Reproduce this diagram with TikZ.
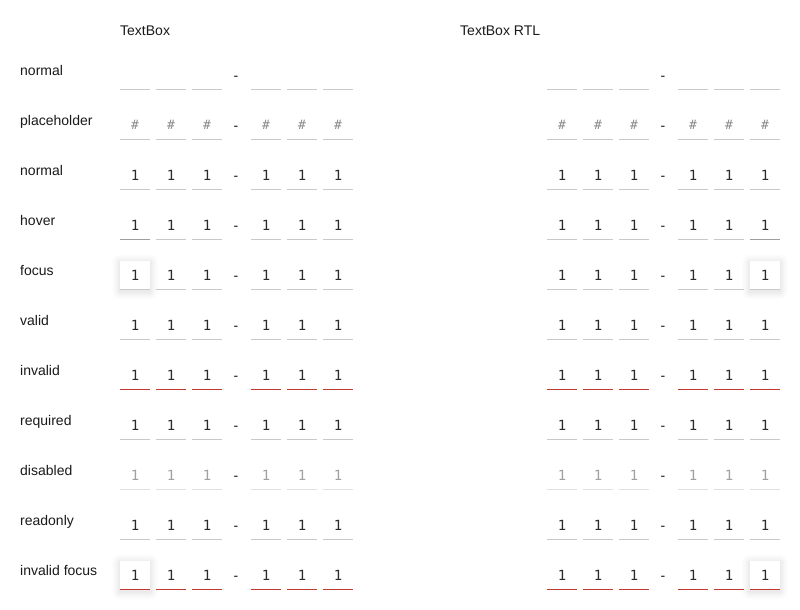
\documentclass[tikz,border=0pt]{standalone}
\usepackage{fontspec}
\setmainfont{Liberation Sans}
\newfontfamily\digitfont{DejaVu Sans Mono}
\definecolor{txt}{HTML}{2B2B2B}
\definecolor{lbl}{HTML}{1A1A1A}
\definecolor{uline}{HTML}{C9C9C9}
\definecolor{uhover}{HTML}{9E9E9E}
\definecolor{udis}{HTML}{E0E0E0}
\definecolor{tdis}{HTML}{A0A0A0}
\definecolor{tph}{HTML}{8A8A8A}
\definecolor{uerr}{HTML}{C23934}
\tikzset{
  x=1pt, y=-1pt,
  lab/.style={anchor=base west, inner sep=0, text=lbl, font=\fontsize{14}{16}\selectfont},
  dashsym/.style={anchor=base, inner sep=0, text=lbl, font=\fontsize{14}{16}\selectfont},
  cell/.style={minimum width=30pt, minimum height=29pt, inner sep=0, font=\digitfont\fontsize{14}{16}\selectfont, text=txt},
  k-empty/.style={}, k-ph/.style={text=tph, font=\digitfont\fontsize{13}{16}\selectfont},
  k-normal/.style={}, k-dis/.style={text=tdis},
  u-normal/.style={draw=uline, line width=1pt},
  u-hover/.style={draw=uhover, line width=1pt},
  u-err/.style={draw=uerr, line width=1pt},
  u-dis/.style={draw=udis, line width=1pt},
}
\newcommand\shadowbox[2]{% center x, center y
  \foreach \s/\o in {8/0.006,7/0.007,6/0.008,5/0.009,4/0.01,3/0.011,2/0.012,1/0.013}{
    \fill[black, opacity=\o, rounded corners=\s pt] (#1-15-\s, #2-14.5-\s+2) rectangle (#1+15+\s, #2+14.5+\s+2);
  }
  \fill[white] (#1-15,#2-14.5) rectangle (#1+15,#2+14.5);
}
\begin{document}
\begin{tikzpicture}
\useasboundingbox[fill=white] (0,0) rectangle (800,610);
\node[lab] (hL) at (120,35.5) {TextBox};
\node[lab] (hR) at (460,35.5) {TextBox RTL};
% focus shadows
\shadowbox{135}{275}
\shadowbox{765}{275}
\shadowbox{135}{575}
\shadowbox{765}{575}
\foreach \r/\lab/\cont/\k/\ul/\us in {
  0/normal/{}/k-empty/u-normal/u-normal,
  1/placeholder/\#/k-ph/u-normal/u-normal,
  2/normal/1/k-normal/u-normal/u-normal,
  3/hover/1/k-normal/u-normal/u-hover,
  4/focus/1/k-normal/u-normal/u-normal,
  5/valid/1/k-normal/u-normal/u-normal,
  6/invalid/1/k-normal/u-err/u-err,
  7/required/1/k-normal/u-normal/u-normal,
  8/disabled/1/k-dis/u-dis/u-dis,
  9/readonly/1/k-normal/u-normal/u-normal,
  10/invalid focus/1/k-normal/u-err/u-err}{
  \pgfmathsetmacro\yc{75+50*\r}
  \pgfmathsetmacro\yb{75+50*\r}
  \pgfmathsetmacro\yd{80+50*\r}
  \node[lab] (lab\r) at (20,\yb) {\lab};
  % left group
  \foreach \c/\xx in {1/135,2/171,3/207,4/266,5/302,6/338}{
    \node[cell,\k] (L\r-\c) at (\xx,\yc) {\cont};
  }
  \draw[\us] (L\r-1.south west) -- (L\r-1.south east);
  \foreach \c in {2,...,6}{\draw[\ul] (L\r-\c.south west) -- (L\r-\c.south east);}
  \node[dashsym] (Ld\r) at (236,\yd) {-};
  % right group
  \foreach \c/\xx in {1/562,2/598,3/634,4/693,5/729,6/765}{
    \node[cell,\k] (R\r-\c) at (\xx,\yc) {\cont};
  }
  \foreach \c in {1,...,5}{\draw[\ul] (R\r-\c.south west) -- (R\r-\c.south east);}
  \draw[\us] (R\r-6.south west) -- (R\r-6.south east);
  \node[dashsym] (Rd\r) at (663,\yd) {-};
}
\end{tikzpicture}
\end{document}
